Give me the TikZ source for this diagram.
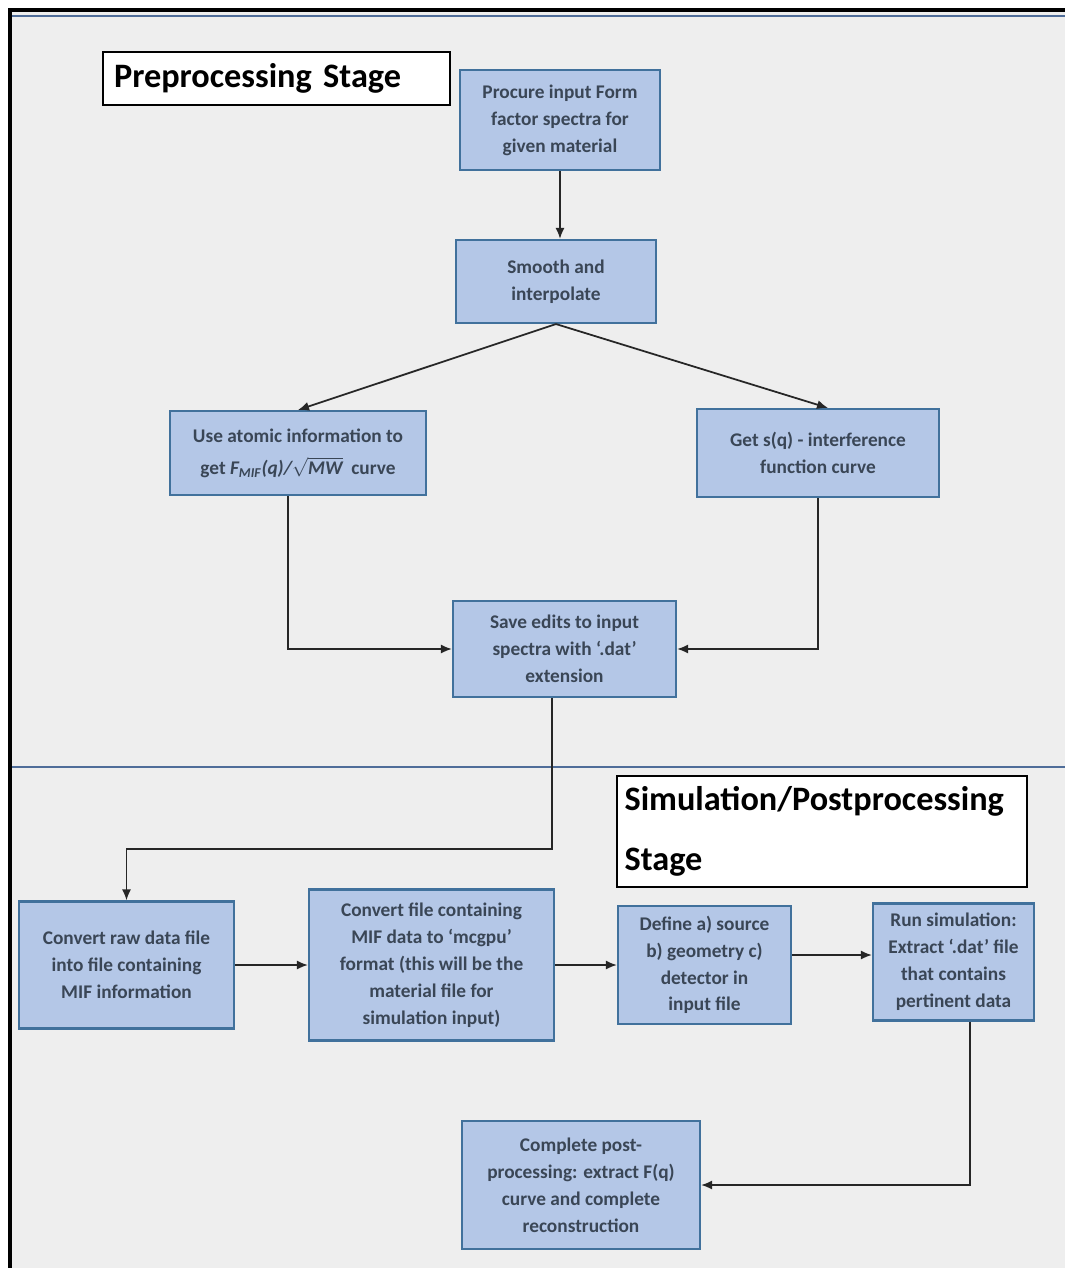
\documentclass[tikz,border=0pt]{standalone}
\usepackage{fontspec}
\setmainfont{Carlito}
\usetikzlibrary{positioning,calc,arrows.meta}
\definecolor{boxfill}{HTML}{B4C7E7}
\definecolor{boxline}{HTML}{41719C}
\definecolor{boxtext}{HTML}{3A4656}
\definecolor{bggrey}{HTML}{EEEEEE}
\definecolor{divline}{HTML}{4F6D99}

\begin{document}
\begin{tikzpicture}[x=0.02cm,y=-0.02cm]
\tikzset{proc/.style={draw=boxline,line width=1.2pt,fill=boxfill,text=boxtext,align=center,inner sep=2pt,
    font=\bfseries\fontsize{11}{15.3}\selectfont},
  stagebox/.style={draw=black,line width=1.4pt,fill=white,align=left,font=\bfseries\fontsize{19.5}{34}\selectfont},
  arr/.style={-{Latex[length=2.2mm,width=1.8mm]},line width=1pt,draw=black!85}};
   \useasboundingbox (0,0) rectangle (1065,1268);
   \fill[bggrey] (10,10) rectangle (1065,1268);
   \draw[line width=2.4pt] (10,1268) -- (10,10) -- (1065,10);
   \draw[divline,line width=1pt] (12,16) -- (1065,16);
   \draw[divline,line width=1.2pt] (12,767) -- (1065,767);

   % preprocessing
   \node[stagebox,minimum width=6.94cm,minimum height=1.06cm,text width=6.5cm] at (276.5,78.5) (pretitle) {Preprocessing Stage};
   \node[proc,minimum width=4cm,minimum height=2cm] at (560,120) (procure) {Procure input Form\\factor spectra for\\given material};
   \node[proc,minimum width=4cm,minimum height=1.66cm] at (556,281.5) (smooth) {Smooth and\\interpolate};
   \node[proc,minimum width=5.12cm,minimum height=1.68cm] at (298,453) (atomic) {Use atomic information to\\[3pt]get {\itshape F\textsubscript{MIF}(q)/}$\sqrt{\mbox{\bfseries\itshape MW}}$\ \ curve};
   \node[proc,minimum width=4.84cm,minimum height=1.76cm] at (818,453) (sq) {Get s(q) - interference\\function curve};
   \node[proc,minimum width=4.46cm,minimum height=1.92cm] at (564.5,649) (save) {Save edits to input\\spectra with `.dat'\\extension};

   % simulation / postprocessing
   \node[stagebox,minimum width=8.2cm,minimum height=2.22cm,text width=7.9cm] at (822,831.5) (simtitle) {Simulation/Postprocessing\\Stage};
   \node[proc,minimum width=4.3cm,minimum height=2.54cm] at (126.5,965) (raw) {Convert raw data file\\into file containing\\MIF information};
   \node[proc,minimum width=4.9cm,minimum height=3.02cm] at (431.5,965) (convert) {Convert file containing\\MIF data to `mcgpu'\\format (this will be the\\material file for\\simulation input)};
   \node[proc,minimum width=3.46cm,minimum height=2.36cm] at (704.5,965) (define) {Define a) source\\b) geometry c)\\detector in\\input file};
   \node[proc,minimum width=3.22cm,minimum height=2.34cm] at (953.5,962) (run) {Run simulation:\\Extract `.dat' file\\that contains\\pertinent data};
   \node[proc,minimum width=4.76cm,minimum height=2.56cm] at (581,1185) (complete) {Complete post-\\processing: extract F(q)\\curve and complete\\reconstruction};

   \draw[arr] (procure.south) -- (procure.south |- smooth.north);
   \draw[arr] (smooth.south) -- (atomic.north);
   \draw[arr] (smooth.south) -- ([xshift=0.2cm]sq.north);
   \draw[arr] ([xshift=-0.2cm]atomic.south) |- (save.west);
   \draw[arr] (sq.south) |- (save.east);
   \draw[arr] ([xshift=-0.25cm]save.south) -- ++(0,151) -| (raw.north);
   \draw[arr] (raw.east) -- (convert.west);
   \draw[arr] (convert.east) -- (define.west);
   \draw[arr] ([yshift=0.2cm]define.east) -- ([yshift=0.2cm]define.east -| run.west);
   \draw[arr] ([xshift=0.33cm]run.south) |- (complete.east);
 \end{tikzpicture}
\end{document}
